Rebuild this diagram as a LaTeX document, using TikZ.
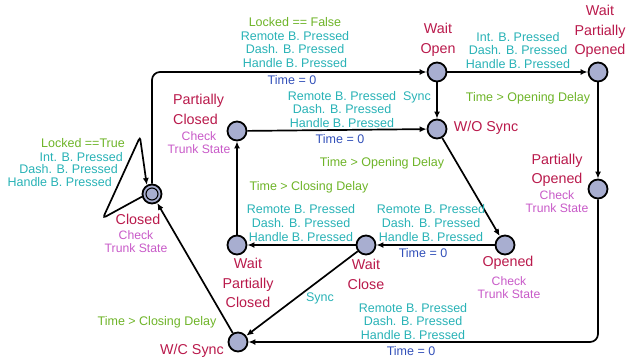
\documentclass[tikz,border=0pt]{standalone}
\usepackage{fontspec}
\setmainfont{Liberation Sans}
\usetikzlibrary{arrows.meta}

\definecolor{locfill}{RGB}{168,174,208}
\definecolor{namecol}{RGB}{185,25,75}
\definecolor{invcol}{RGB}{200,90,200}
\definecolor{synccol}{RGB}{40,178,182}
\definecolor{guardcol}{RGB}{110,180,40}
\definecolor{assigncol}{RGB}{50,80,185}

\tikzset{
  loc/.style={circle, draw=black, line width=1.8pt, fill=locfill,
    minimum size=19pt, inner sep=0pt},
  initloc/.style={loc, path picture={\draw[line width=1.1pt]
    (path picture bounding box.center) circle (6pt);}},
  trans/.style={line width=1.7pt, -{Latex[length=7pt,width=6pt]}},
  sname/.style={font=\fontsize{14.3}{19.6}\selectfont, text=namecol,
    align=center, inner sep=0pt},
  inv/.style={font=\fontsize{12.2}{12.8}\selectfont, text=invcol,
    align=center, inner sep=0pt},
  sync/.style={font=\fontsize{12.5}{13.6}\selectfont, text=synccol,
    align=center, inner sep=0pt},
  guard/.style={sync, text=guardcol},
  assign/.style={sync, text=assigncol},
}

\begin{document}
\begin{tikzpicture}[x=1pt, y=-1pt]
\useasboundingbox (0,0) rectangle (626,361);

% locations
\node[initloc] (closed) at (152,194) {};
\node[loc] (pclosed) at (237,131) {};
\node[loc] (waitopen) at (437,72) {};
\node[loc] (wosync) at (437,129) {};
\node[loc] (waitpopened) at (598,72) {};
\node[loc] (popened) at (598,189) {};
\node[loc] (opened) at (505,245) {};
\node[loc] (waitclose) at (366,245) {};
\node[loc] (waitpclosed) at (237,245) {};
\node[loc] (wcsync) at (238,342) {};

% location names and invariants
\node[sname] (closedname) at (138,219) {Closed};
\node[inv] (closedinv) at (136,241.5) {Check\\Trunk State};
\node[sname, align=left, anchor=west] (pclosedname) at (173,109.5) {Partially\\Closed};
\node[inv] (pclosedinv) at (199,143) {Check\\Trunk State};
\node[sname] (waitopenname) at (438,40) {Wait\\Open};
\node[sname] (wosyncname) at (486,128) {W/O Sync};
\node[sname] (waitpopenedname) at (600,31.5) {Wait\\Partially\\Opened};
\node[sname] (popenedname) at (557,170.5) {Partially\\Opened};
\node[inv] (popenedinv) at (557,202) {Check\\Trunk State};
\node[sname] (openedname) at (508,263) {Opened};
\node[inv] (openedinv) at (509,288) {Check\\Trunk State};
\node[sname] (waitclosename) at (366,274.5) {Wait\\Close};
\node[sname] (waitpclosedname) at (248,283) {Wait\\Partially\\Closed};
\node[sname] (wcsyncname) at (192,351) {W/C Sync};

% transitions
\draw[trans, rounded corners=8pt] (closed) |- (waitopen);
\coordinate (loopl) at (103,218);
\coordinate (loopt) at (140,137);
\draw[trans, rounded corners=3pt] (closed.195) -- (loopl) -- (loopt) -- (closed.120);
\draw[trans] (waitopen) -- (wosync);
\draw[trans] (pclosed) -- (wosync);
\draw[trans] (waitopen) -- (waitpopened);
\draw[trans] (waitpopened) -- (popened);
\draw[trans] (wosync) -- (opened);
\draw[trans] (opened) -- (waitclose);
\draw[trans] (waitclose) -- (waitpclosed);
\draw[trans] (waitpclosed) -- (pclosed);
\draw[trans] (waitclose) -- (wcsync);
\draw[trans, rounded corners=8pt] (popened) |- (wcsync);
\draw[trans] (wcsync) -- (closed);

% closed -> wait open
\node[guard] (g1) at (295,22) {Locked == False};
\node[sync] (s1) at (295,49.5) {Remote B. Pressed\\Dash. B. Pressed\\Handle B. Pressed};
\node[assign] (a1) at (292,80) {Time = 0};
% self loop on closed
\node[guard, anchor=east] (g2) at (125,143) {Locked ==True};
\node[sync, anchor=east] (s2a) at (123,157) {Int. B. Pressed};
\node[sync, anchor=east] (s2b) at (118,169) {Dash. B. Pressed};
\node[sync, anchor=east] (s2c) at (112,182) {Handle B. Pressed};
% partially closed -> w/o sync
\node[sync] (s3) at (342,109.5) {Remote B. Pressed\\Dash. B. Pressed\\Handle B. Pressed};
\node[assign] (a3) at (340,139) {Time = 0};
% wait open -> w/o sync
\node[sync] (s4) at (417,97) {Sync};
% wait open -> wait partially opened
\node[sync] (s5) at (518,50.5) {Int. B. Pressed\\Dash. B. Pressed\\Handle B. Pressed};
\node[guard] (g5) at (528,98) {Time > Opening Delay};
% w/o sync -> opened
\node[guard] (g6) at (382,163) {Time > Opening Delay};
% opened -> wait close
\node[sync] (s7) at (431,223) {Remote B. Pressed\\Dash. B. Pressed\\Handle B. Pressed};
\node[assign] (a7) at (423,253) {Time = 0};
% wait close -> wait partially closed
\node[sync] (s8) at (301,223) {Remote B. Pressed\\Dash. B. Pressed\\Handle B. Pressed};
% wait partially closed -> partially closed
\node[guard] (g9) at (309,187) {Time > Closing Delay};
% wait close -> w/c sync
\node[sync] (s10) at (320,298) {Sync};
% partially opened -> w/c sync
\node[sync] (s11) at (413,321.5) {Remote B. Pressed\\Dash. B. Pressed\\Handle B. Pressed};
\node[assign] (a11) at (411,351) {Time = 0};
% w/c sync -> closed
\node[guard] (g12) at (157,322) {Time > Closing Delay};
\end{tikzpicture}
\end{document}
